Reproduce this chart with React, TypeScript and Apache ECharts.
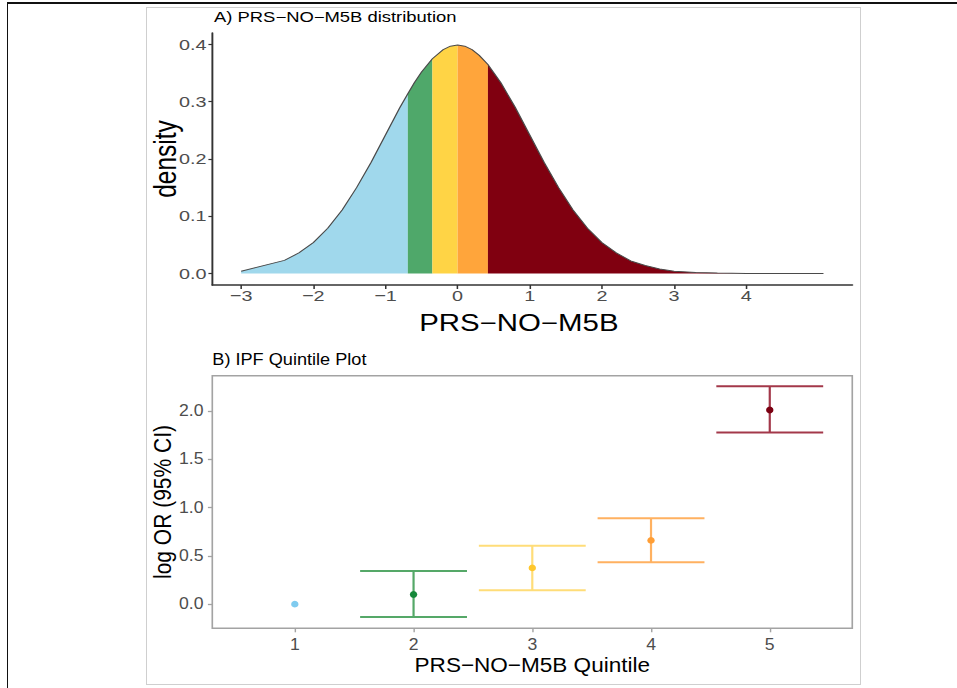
import React, { useEffect, useRef } from "react";
import * as echarts from "echarts";

// ---------- Panel A data: density curve of PRS-NO-M5B ----------
const prsX = [-3.0, -2.4, -2.2, -2.0, -1.8, -1.6, -1.4, -1.2, -1.0, -0.8, -0.69, -0.6, -0.5, -0.35, -0.2, -0.1, 0, 0.1, 0.2, 0.3, 0.42, 0.6, 0.8, 1.0, 1.2, 1.4, 1.6, 1.8, 2.0, 2.2, 2.4, 2.6, 2.8, 3.0, 3.3, 3.6, 4.0, 4.5, 5.07];
const densityY = [0.004, 0.023, 0.036, 0.054, 0.079, 0.111, 0.15, 0.194, 0.242, 0.29, 0.314, 0.333, 0.352, 0.375, 0.391, 0.397, 0.399, 0.397, 0.391, 0.381, 0.365, 0.333, 0.29, 0.242, 0.194, 0.15, 0.111, 0.079, 0.054, 0.036, 0.022, 0.014, 0.008, 0.004, 0.002, 0.001, 0.0002, 0.0, 0.0];
// quintile boundaries along the PRS axis (first and last are the data ends)
const quintileCuts = [-3.0, -0.69, -0.35, 0, 0.42, 5.07];
const densityXTicks = [-3, -2, -1, 0, 1, 2, 3, 4];
const densityYTicks = [0, 0.1, 0.2, 0.3, 0.4];

// ---------- Panel B data: IPF quintile plot ----------
const quintiles = [1, 2, 3, 4, 5];
const logOR = [0, 0.1, 0.375, 0.66, 2.01];
const ciLower = [null, -0.134, 0.145, 0.434, 1.777];
const ciUpper = [null, 0.344, 0.605, 0.888, 2.255];
const logORTicks = [0, 0.5, 1.0, 1.5, 2.0];

// ---------- styles ----------
const fillColors = ["#A0D8EC", "#4FA86A", "#FFD445", "#FFA53B", "#800010"];
const pointColors = ["#7FCBEF", "#16883A", "#FFC72C", "#FF9E35", "#7B0012"];
const barColors = ["#7FCBEF", "#55A868", "#FFDD78", "#FFB160", "#A3384A"];

const FONT = '"Liberation Sans", Arial, Helvetica, sans-serif';
// the reference picture is stretched horizontally, by a different amount in each panel
const WA = 748;
const HA = 340;
const SA = 957 / WA;
const WB = 870;
const HB = 348;
const SB = 957 / WB;
const minus = (v: number | string) => String(v).replace("-", "\u2212");

export default function App() {
  const refA = useRef<HTMLDivElement>(null);
  const refB = useRef<HTMLDivElement>(null);

  useEffect(() => {
    if (!refA.current || !refB.current) return;
    const chartA = echarts.init(refA.current, null, { renderer: "svg" });
    const chartB = echarts.init(refB.current, null, { renderer: "svg" });

    // ---------------- Panel A ----------------
    const pairs = prsX.map((x, i) => [x, densityY[i]]);
    const areaSeries = fillColors.map((c, k) => ({
      type: "line",
      name: "Q" + (k + 1),
      data: pairs.filter((p) => p[0] >= quintileCuts[k] && p[0] <= quintileCuts[k + 1]),
      showSymbol: false,
      symbol: "none",
      lineStyle: { width: 0, opacity: 0 },
      areaStyle: { color: c, opacity: 1 },
      itemStyle: { color: c },
      z: 2,
    }));

    const tickA = { fontFamily: FONT, fontSize: 15.5, color: "#4D4D4D" };

    const optionA: any = {
      animation: false,
      textStyle: { fontFamily: FONT },
      title: {
        text: "A) PRS\u2212NO\u2212M5B distribution",
        left: 167.3,
        top: 10.4,
        padding: 0,
        textStyle: { fontFamily: FONT, fontSize: 14.4, fontWeight: "normal", color: "#000" },
      },
      grid: { left: 165.9, right: WA - 666.2, top: 33, height: 252 },
      xAxis: {
        type: "value",
        min: -3.4,
        max: 5.47,
        name: "PRS\u2212NO\u2212M5B",
        nameLocation: "middle",
        nameGap: 27,
        nameMoveOverlap: false,
        nameTextStyle: { fontFamily: FONT, fontSize: 23, color: "#000", padding: [0, 21, 0, 0] },
        axisLine: { show: true, onZero: false, lineStyle: { color: "#333", width: 1.5 } },
        axisTick: { show: true, length: 4, customValues: densityXTicks, lineStyle: { color: "#333", width: 1.2 } },
        axisLabel: { ...tickA, margin: 3, customValues: densityXTicks, formatter: (v: number) => minus(v) },
        splitLine: { show: false },
      },
      yAxis: {
        type: "value",
        min: -0.02,
        max: 0.42,
        name: "density",
        nameLocation: "middle",
        nameGap: 24,
        nameMoveOverlap: false,
        nameTextStyle: { fontFamily: FONT, fontSize: 24.5, color: "#000" },
        axisLine: { show: true, onZero: false, lineStyle: { color: "#333", width: 1.5 } },
        axisTick: { show: true, length: 3, customValues: densityYTicks, lineStyle: { color: "#333", width: 1.2 } },
        axisLabel: { ...tickA, margin: 4.5, customValues: densityYTicks, formatter: (v: number) => Number(v).toFixed(1) },
        splitLine: { show: false },
      },
      series: [
        ...areaSeries,
        {
          type: "line",
          name: "density",
          data: pairs,
          showSymbol: false,
          symbol: "none",
          lineStyle: { color: "#4A4A4A", width: 1 },
          itemStyle: { color: "#4A4A4A" },
          z: 3,
        },
      ],
    };

    // ---------------- Panel B ----------------
    const capHalf = 0.45;
    const ciData = quintiles
      .map((q, i) => (ciLower[i] == null ? null : [q, ciLower[i], ciUpper[i], i]))
      .filter((d) => d !== null);

    const tickB = { fontFamily: FONT, fontSize: 16, color: "#4D4D4D" };

    const optionB: any = {
      animation: false,
      textStyle: { fontFamily: FONT },
      title: {
        text: "B) IPF Quintile Plot",
        left: 193,
        top: 11,
        padding: 0,
        textStyle: { fontFamily: FONT, fontSize: 16.5, fontWeight: "normal", color: "#000" },
      },
      grid: {
        left: 193,
        right: WB - 774.8,
        top: 35.7,
        height: 252.6,
        show: true,
        borderColor: "#A3A3A3",
        borderWidth: 1.5,
        backgroundColor: "transparent",
      },
      xAxis: {
        type: "value",
        min: 0.305,
        max: 5.695,
        name: "PRS\u2212NO\u2212M5B Quintile",
        nameLocation: "middle",
        nameGap: 27,
        nameMoveOverlap: false,
        nameTextStyle: { fontFamily: FONT, fontSize: 20.5, color: "#000" },
        axisLine: { show: false, onZero: false },
        axisTick: { show: true, length: 4, customValues: quintiles, lineStyle: { color: "#A3A3A3", width: 1.3 } },
        axisLabel: { ...tickB, margin: 8, customValues: quintiles, formatter: (v: number) => String(v) },
        splitLine: { show: false },
      },
      yAxis: {
        type: "value",
        min: -0.25,
        max: 2.365,
        name: "log OR (95% CI)",
        nameLocation: "middle",
        nameGap: 34.5,
        nameMoveOverlap: false,
        nameTextStyle: { fontFamily: FONT, fontSize: 21, color: "#000" },
        axisLine: { show: false, onZero: false },
        axisTick: { show: true, length: 4, customValues: logORTicks, lineStyle: { color: "#A3A3A3", width: 1.3 } },
        axisLabel: { ...tickB, margin: 8, customValues: logORTicks, formatter: (v: number) => Number(v).toFixed(1) },
        splitLine: { show: false },
      },
      series: [
        {
          type: "custom",
          name: "95% CI",
          data: ciData,
          encode: { x: 0, y: [1, 2] },
          z: 2,
          renderItem: (params: any, api: any) => {
            const x = api.value(0);
            const lo = api.value(1);
            const hi = api.value(2);
            const color = barColors[api.value(3)];
            const pLo = api.coord([x, lo]);
            const pHi = api.coord([x, hi]);
            const l1 = api.coord([x - capHalf, lo]);
            const r1 = api.coord([x + capHalf, lo]);
            const l2 = api.coord([x - capHalf, hi]);
            const r2 = api.coord([x + capHalf, hi]);
            return {
              type: "group",
              children: [
                { type: "line", shape: { x1: pLo[0], y1: pLo[1], x2: pHi[0], y2: pHi[1] }, style: { stroke: color, lineWidth: 2 } },
                { type: "line", shape: { x1: l1[0], y1: l1[1], x2: r1[0], y2: r1[1] }, style: { stroke: color, lineWidth: 2 } },
                { type: "line", shape: { x1: l2[0], y1: l2[1], x2: r2[0], y2: r2[1] }, style: { stroke: color, lineWidth: 2 } },
              ],
            };
          },
        },
        {
          type: "scatter",
          name: "log OR",
          symbol: "circle",
          symbolSize: 6.7,
          data: quintiles.map((q, i) => ({ value: [q, logOR[i]], itemStyle: { color: pointColors[i], opacity: 1 } })),
          z: 4,
        },
      ],
    };

    chartA.setOption(optionA);
    chartB.setOption(optionB);
    return () => {
      chartA.dispose();
      chartB.dispose();
    };
  }, []);

  return (
    <div style={{ position: "absolute", left: 0, top: 0, width: 957, height: 688, overflow: "hidden", background: "#fff" }}>
      {/* outer frame (top and left edges) */}
      <div
        style={{
          position: "absolute",
          left: 6.5,
          top: 2.3,
          width: 950.5,
          height: 685.7,
          borderTop: "2px solid #111",
          borderLeft: "1.5px solid #111",
          boxSizing: "border-box",
        }}
      />
      {/* light panel box around both plots */}
      <div
        style={{
          position: "absolute",
          left: 146.2,
          top: 7.2,
          width: 714.6,
          height: 678.3,
          border: "1px solid #CFCFCF",
          boxSizing: "border-box",
        }}
      />
      <div
        ref={refA}
        style={{
          position: "absolute",
          left: 0,
          top: 0,
          width: WA,
          height: HA,
          transform: `scaleX(${SA})`,
          transformOrigin: "0 0",
        }}
      />
      <div
        ref={refB}
        style={{
          position: "absolute",
          left: 0,
          top: HA,
          width: WB,
          height: HB,
          transform: `scaleX(${SB})`,
          transformOrigin: "0 0",
        }}
      />
    </div>
  );
}
